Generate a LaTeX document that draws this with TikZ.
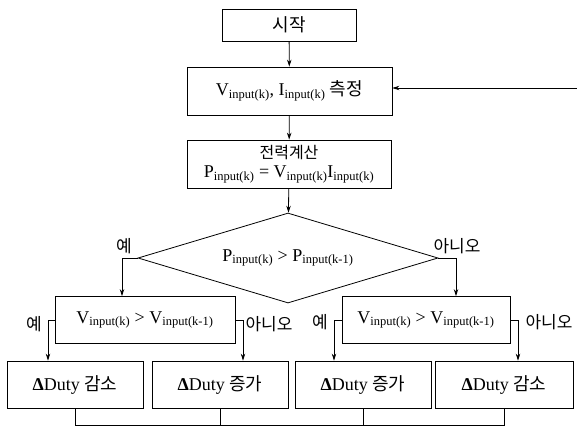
\documentclass[tikz,border=0pt]{standalone}
\usepackage{fontspec}
\setmainfont{Liberation Serif}
\newfontfamily\kr{Noto Sans CJK KR}
\usetikzlibrary{arrows.meta,shapes.geometric}
\newcommand{\sbs}[1]{\textsubscript{\fontsize{12.5}{12.5}\selectfont #1}}
\newcommand{\dty}{\textbf{Δ}Duty}

\begin{document}
\begin{tikzpicture}[x=1pt,y=-1pt,line width=0.8pt,>={Stealth[length=7pt,width=4.5pt]},
  font=\fontsize{18}{21}\selectfont,
  box/.style={draw,rectangle,inner sep=0pt,minimum height=47pt},
  lbl/.style={font=\kr\fontsize{17}{17}\selectfont,inner sep=0pt}]
\useasboundingbox (0,0) rectangle (577,426);
\node[box,minimum width=134pt,minimum height=32pt] (start) at (289,25) {\kr\fontsize{18}{18}\selectfont 시작};
\node[box,minimum width=205pt,minimum height=48pt] (meas) at (289.5,91) {V\sbs{input(k)}, I\sbs{input(k)} {\kr 측정}};
\node[box,minimum width=204pt,minimum height=48pt,align=center] (calc) at (289,164) {{\kr\fontsize{16}{16}\selectfont 전력계산}\\[-2pt] P\sbs{input(k)} = V\sbs{input(k)}I\sbs{input(k)}};
\node[draw,diamond,aspect=3.3,inner sep=0pt,minimum width=300pt,minimum height=90pt] (cmpP) at (288,258) {P\sbs{input(k)} > P\sbs{input(k-1)}};
\node[box,minimum width=180pt] (cmpVL) at (145,320) {V\sbs{input(k)} > V\sbs{input(k-1)}};
\node[box,minimum width=168pt] (cmpVR) at (426,320) {V\sbs{input(k)} > V\sbs{input(k-1)}};
\node[box,minimum width=136pt] (decA) at (75,384.5) {\dty\ {\kr 감소}};
\node[box,minimum width=136pt] (incA) at (220,384.5) {\dty\ {\kr 증가}};
\node[box,minimum width=136pt] (incB) at (363,384.5) {\dty\ {\kr 증가}};
\node[box,minimum width=138pt] (decB) at (504,384.5) {\dty\ {\kr 감소}};
\coordinate (fb) at (577,88);
\coordinate (bot) at (0,425);

\draw[->] (start) -- (meas);
\draw[->] (meas) -- (calc);
\draw[->] (calc) -- (cmpP);
\draw[->] (fb) -- (fb -| meas.east);
\draw[->] (cmpP.west) -| ([xshift=-23pt]cmpVL.north);
\draw[->] (cmpP.east) -| ([xshift=30pt]cmpVR.north);
\draw[->] (cmpVL.west) -| ([xshift=-27pt]decA.north);
\draw[->] (cmpVL.east) -| ([xshift=23pt]incA.north);
\draw[->] (cmpVR.west) -| ([xshift=-29pt]incB.north);
\draw[->] (cmpVR.east) -| ([xshift=14pt]decB.north);
\draw (decA.south) -- (decA.south |- bot) -- (decB.south |- bot) -- (decB.south);
\draw (incA.south) -- (incA.south |- bot);
\draw (incB.south) -- (incB.south |- bot);

% branch labels
\node[lbl] (y0) at (124,246) {예};
\node[lbl] (n0) at (457,246) {아니오};
\node[lbl] (y1) at (34,324) {예};
\node[lbl] (n1) at (269,324) {아니오};
\node[lbl] (y2) at (320,322) {예};
\node[lbl] (n2) at (549,322) {아니오};
\end{tikzpicture}
\end{document}
